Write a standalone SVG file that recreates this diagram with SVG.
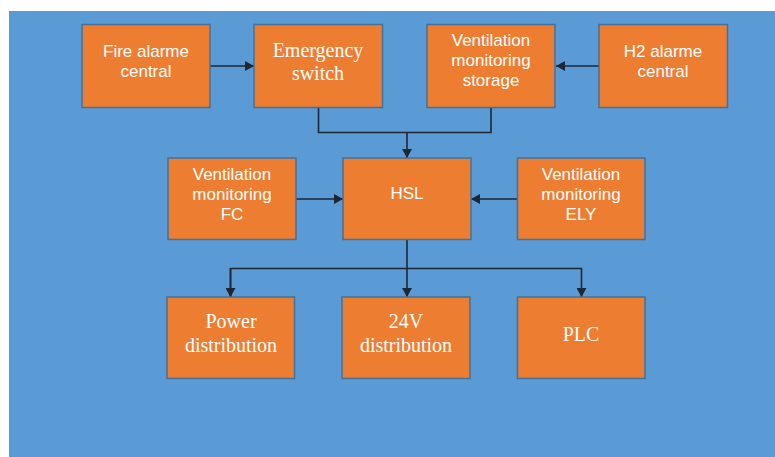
<svg xmlns="http://www.w3.org/2000/svg" width="775" height="457" viewBox="0 0 775 457">
<style>
.box{fill:#ED7D31;stroke:#41719C;stroke-width:1.5}
.sans{font-family:"Liberation Sans",Arial,sans-serif;font-size:17px;fill:#FFFFFF;text-anchor:middle}
.serif{font-family:"Liberation Serif","Times New Roman",serif;font-size:20px;fill:#FFFFFF;text-anchor:middle}
.conn{fill:none;stroke:#1E2633;stroke-width:1.6}
</style>
<defs>
<marker id="arr" viewBox="0 0 10 10" refX="10" refY="5" markerWidth="10" markerHeight="10" markerUnits="userSpaceOnUse" orient="auto">
<path d="M1,0 L10,5 L1,10 Z" fill="#1E2633"/>
</marker>
</defs>
<rect x="9" y="11" width="766" height="446" fill="#5B9BD5"/>
<g id="connectors">
<path class="conn" d="M210,66 H254" marker-end="url(#arr)"/>
<path class="conn" d="M599,66 H556" marker-end="url(#arr)"/>
<path class="conn" d="M318.5,107 V132.5 H491 V107"/>
<path class="conn" d="M407,132.5 V158" marker-end="url(#arr)"/>
<path class="conn" d="M296,199 H343" marker-end="url(#arr)"/>
<path class="conn" d="M517,199 H471" marker-end="url(#arr)"/>
<path class="conn" d="M407,239.5 V268.5"/>
<path class="conn" d="M407,268.5 V297" marker-end="url(#arr)"/>
<path class="conn" d="M230.5,297 V268.5 H581.5 V297" marker-end="url(#arr)"/>
<path class="conn" d="M230.5,268.5 V297" marker-end="url(#arr)"/>
</g>
<g id="fire-alarme-central">
<rect class="box" x="82" y="24.5" width="128" height="83"/>
<text class="sans" x="146" y="57">Fire alarme</text>
<text class="sans" x="146" y="77">central</text>
</g>
<g id="emergency-switch">
<rect class="box" x="254" y="24.5" width="128.5" height="83"/>
<text class="serif" x="318" y="57">Emergency</text>
<text class="serif" x="318" y="80">switch</text>
</g>
<g id="ventilation-monitoring-storage">
<rect class="box" x="427" y="24.5" width="128" height="83"/>
<text class="sans" x="491" y="46">Ventilation</text>
<text class="sans" x="491" y="66">monitoring</text>
<text class="sans" x="491" y="86">storage</text>
</g>
<g id="h2-alarme-central">
<rect class="box" x="599" y="24.5" width="128.5" height="83"/>
<text class="sans" x="663" y="57">H2 alarme</text>
<text class="sans" x="663" y="77">central</text>
</g>
<g id="ventilation-monitoring-fc">
<rect class="box" x="168" y="158" width="128" height="81.5"/>
<text class="sans" x="232" y="180">Ventilation</text>
<text class="sans" x="232" y="200">monitoring</text>
<text class="sans" x="232" y="220">FC</text>
</g>
<g id="hsl">
<rect class="box" x="343" y="158" width="128" height="81.5"/>
<text class="sans" x="407" y="199">HSL</text>
</g>
<g id="ventilation-monitoring-ely">
<rect class="box" x="517.5" y="158" width="127.5" height="81.5"/>
<text class="sans" x="581" y="180">Ventilation</text>
<text class="sans" x="581" y="200">monitoring</text>
<text class="sans" x="581" y="220">ELY</text>
</g>
<g id="power-distribution">
<rect class="box" x="167" y="297" width="127.5" height="81.5"/>
<text class="serif" x="231" y="328">Power</text>
<text class="serif" x="231" y="352">distribution</text>
</g>
<g id="v24-distribution">
<rect class="box" x="342" y="297" width="128" height="81.5"/>
<text class="serif" x="406" y="328">24V</text>
<text class="serif" x="406" y="352">distribution</text>
</g>
<g id="plc">
<rect class="box" x="517.5" y="297" width="127.5" height="81.5"/>
<text class="serif" x="581" y="341">PLC</text>
</g>
</svg>
